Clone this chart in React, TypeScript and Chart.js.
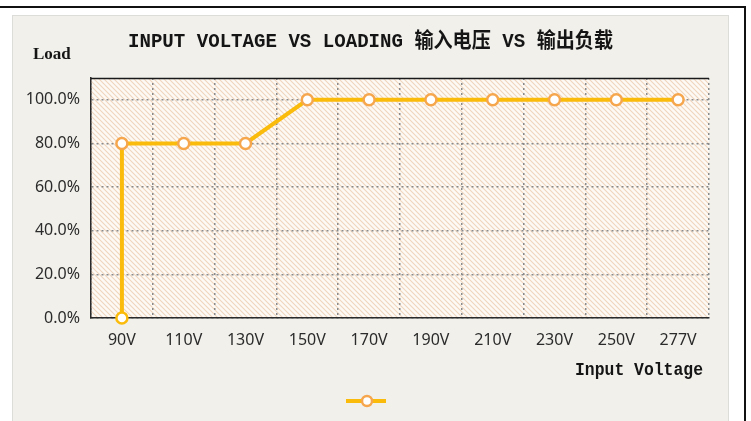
import React, { useEffect, useRef } from "react";
import { Chart, registerables } from "chart.js";

Chart.register(...registerables);

const categories = ["90V", "110V", "130V", "150V", "170V", "190V", "210V", "230V", "250V", "277V"];
const loadVoltage = ["90V", "90V", "110V", "130V", "150V", "170V", "190V", "210V", "230V", "250V", "277V"];
const loadPercent = [0, 80, 80, 80, 100, 100, 100, 100, 100, 100, 100];
const titleText = "INPUT VOLTAGE VS LOADING 输入电压 VS 输出负载";
const yAxisTitle = "Load";
const xAxisTitle = "Input Voltage";

const LINE = "#fbbb0a";
const MARKER = "#f6a64c";

function makePattern(): CanvasPattern | string {
  const c = document.createElement("canvas");
  c.width = 5;
  c.height = 5;
  const g = c.getContext("2d");
  if (!g) return "#fdf8f2";
  g.fillStyle = "#fdfaf6";
  g.fillRect(0, 0, 5, 5);
  g.strokeStyle = "#f0d5bd";
  g.lineWidth = 1.1;
  g.beginPath();
  g.moveTo(-1, -1);
  g.lineTo(6, 6);
  g.moveTo(-1, 4);
  g.lineTo(1, 6);
  g.moveTo(4, -1);
  g.lineTo(6, 1);
  g.stroke();
  const p = g.createPattern(c, "repeat");
  return p || "#fdf8f2";
}

const decor = {
  id: "decor",
  beforeDraw(chart: any) {
    const ctx = chart.ctx;
    const a = chart.chartArea;
    ctx.save();
    ctx.fillStyle = "#ffffff";
    ctx.fillRect(0, 0, chart.width, chart.height);
    ctx.strokeStyle = "#111";
    ctx.lineWidth = 2;
    ctx.beginPath();
    ctx.moveTo(0, 7);
    ctx.lineTo(745, 7);
    ctx.lineTo(745, chart.height);
    ctx.stroke();
    ctx.fillStyle = "#f1f0eb";
    ctx.fillRect(12, 15, 717, chart.height - 15);
    ctx.strokeStyle = "#dcdcd8";
    ctx.lineWidth = 1;
    ctx.strokeRect(12.5, 15.5, 716, chart.height - 15);
    ctx.fillStyle = makePattern();
    ctx.fillRect(a.left, a.top, a.right - a.left, a.bottom - a.top);
    ctx.restore();
  },
  afterDraw(chart: any) {
    const ctx = chart.ctx;
    const a = chart.chartArea;
    ctx.save();
    ctx.strokeStyle = "#1a1a1a";
    ctx.lineWidth = 1.5;
    ctx.beginPath();
    ctx.moveTo(a.left, a.top + 0.5);
    ctx.lineTo(a.right, a.top + 0.5);
    ctx.stroke();
    ctx.fillStyle = "#151515";
    ctx.textBaseline = "middle";
    ctx.textAlign = "center";
    ctx.font = "bold 21px 'Liberation Mono', 'Noto Sans CJK SC', monospace";
    ctx.fillText(titleText, 370.5, 42, 485);
    ctx.textAlign = "left";
    ctx.font = "bold 17px 'Liberation Serif', serif";
    ctx.fillText(yAxisTitle, 33, 55);
    ctx.textAlign = "right";
    ctx.font = "bold 18px 'Liberation Mono', monospace";
    ctx.fillText(xAxisTitle, 703, 370, 128);
    const ds = chart.data.datasets[0];
    const ly = 401;
    ctx.strokeStyle = ds.borderColor;
    ctx.lineWidth = 4;
    ctx.beginPath();
    ctx.moveTo(346, ly);
    ctx.lineTo(386, ly);
    ctx.stroke();
    ctx.fillStyle = "#ffffff";
    ctx.strokeStyle = MARKER;
    ctx.lineWidth = 2.5;
    ctx.beginPath();
    ctx.arc(367, ly, 5, 0, Math.PI * 2);
    ctx.fill();
    ctx.stroke();
    ctx.restore();
  },
};

export default function App() {
  const ref = useRef<HTMLCanvasElement | null>(null);
  useEffect(() => {
    if (!ref.current) return;
    const chart = new Chart(ref.current, {
      type: "line",
      data: {
        labels: categories,
        datasets: [
          {
            label: "",
            data: loadVoltage.map((x, i) => ({ x, y: loadPercent[i] })) as any,
            borderColor: LINE,
            borderWidth: 4,
            pointRadius: 5.5,
            pointBorderWidth: 2.5,
            pointBackgroundColor: "#ffffff",
            pointBorderColor: loadPercent.map((_, i) => (i === 0 ? LINE : MARKER)),
            tension: 0,
            fill: false,
            clip: false as any,
          },
        ],
      },
      options: {
        responsive: false,
        animation: false,
        devicePixelRatio: 1,
        layout: { padding: { left: 0, top: 78, right: 42, bottom: 0 } },
        plugins: {
          legend: { display: false },
          title: { display: false },
          tooltip: { enabled: false },
        },
        scales: {
          x: {
            type: "category",
            offset: true,
            grid: {
              offset: true,
              drawTicks: false,
              color: "#8a8a8a",
              lineWidth: 1.5,
            },
            border: { display: true, color: "#2a2a2a", width: 1.5, dash: [2, 3] },
            ticks: {
              padding: 13,
              color: "#2b2b2b",
              font: { family: "'Noto Sans', sans-serif", size: 16 },
            },
            afterFit: (s: any) => {
              s.height = 103;
            },
          },
          y: {
            min: 0,
            max: 110,
            ticks: {
              stepSize: 20,
              padding: 11,
              color: "#2b2b2b",
              font: { family: "'Noto Sans', sans-serif", size: 16 },
              callback: (v: any) => Number(v).toFixed(1) + "%",
            },
            afterBuildTicks: (s: any) => {
              s.ticks = s.ticks.filter((t: any) => t.value <= 100);
            },
            grid: { drawTicks: false, color: "#8a8a8a", lineWidth: 1.5 },
            border: { display: true, color: "#2a2a2a", width: 1.5, dash: [2, 3] },
            afterFit: (s: any) => {
              s.width = 91;
            },
          },
        },
      },
      plugins: [decor],
    });
    return () => chart.destroy();
  }, []);
  return (
    <div style={{ position: "absolute", left: 0, top: 0, width: 751, height: 421 }}>
      <canvas ref={ref} width={751} height={421} style={{ display: "block", width: 751, height: 421 }} />
    </div>
  );
}
